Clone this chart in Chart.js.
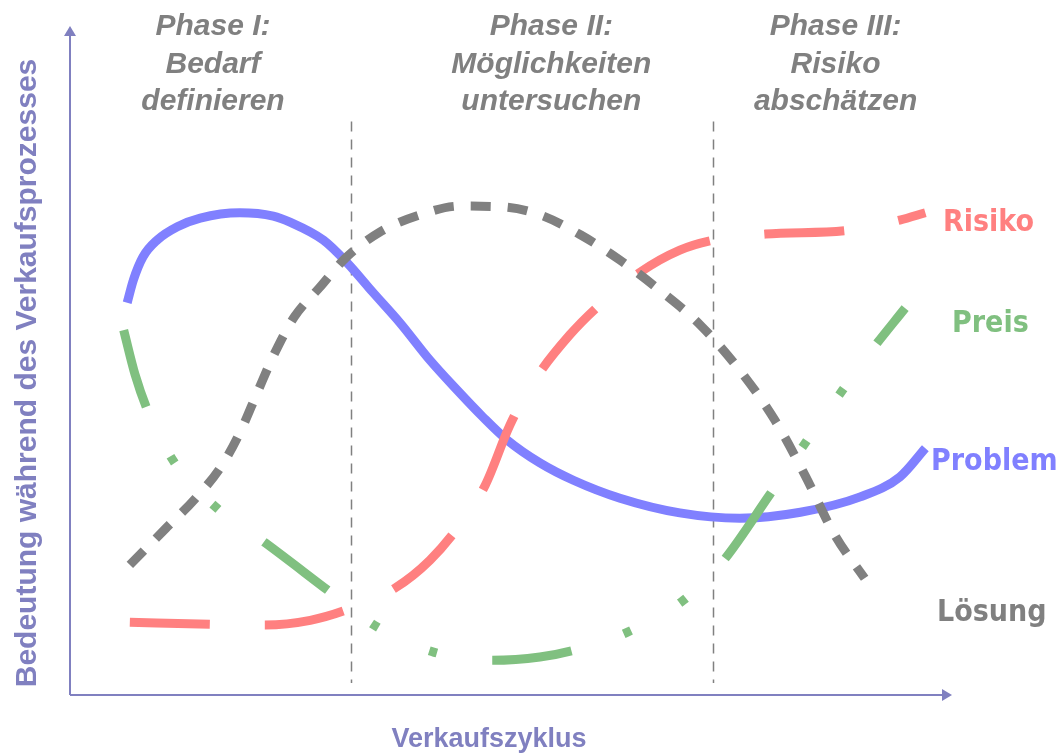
<!DOCTYPE html>
<html>
<head>
<meta charset="utf-8">
<script src="https://cdn.jsdelivr.net/npm/chart.js@4.4.1/dist/chart.umd.min.js"></script>
<style>
  html, body { margin: 0; padding: 0; background: #ffffff; }
  canvas { display: block; }
</style>
</head>
<body>
<canvas id="c" width="1059" height="755"></canvas>
<script>
// Position along the sales cycle (0-100) and importance (0-100)
const problemX = [6.5, 7.2, 8.3, 9.9, 12.2, 14.8, 19.3, 23.1, 25.0, 28.8, 31.5, 34.4, 37.5, 40.9, 44.0, 46.9, 49.7, 53.4, 57.2, 62.5, 69.3, 76.1, 83.0, 89.8, 94.3, 97.2];
const problemY = [58.8, 62.2, 65.7, 68.2, 70.2, 71.5, 72.3, 71.8, 70.9, 68.2, 64.8, 60.4, 55.8, 50.2, 45.7, 41.7, 38.2, 34.8, 32.2, 29.5, 27.3, 26.5, 27.4, 29.7, 32.7, 37.0];

const loesungX = [6.8, 10.9, 14.2, 17.2, 19.4, 21.3, 23.2, 25.5, 28.3, 31.3, 35.2, 39.8, 44.3, 48.9, 53.4, 58.0, 62.5, 67.0, 71.6, 76.1, 80.1, 83.5, 86.9, 90.3];
const loesungY = [19.5, 25.0, 29.4, 34.3, 39.6, 45.4, 51.1, 56.7, 61.0, 65.5, 69.4, 72.0, 73.3, 73.2, 72.0, 69.0, 65.2, 60.7, 55.5, 48.7, 41.2, 33.0, 24.0, 17.5];

const risikoX = [6.8, 15.9, 22.2, 27.3, 31.3, 36.9, 40.9, 44.3, 47.2, 50.0, 52.8, 56.8, 60.2, 64.8, 69.3, 73.1, 79.0, 88.6, 94.3, 97.2];
const risikoY = [10.9, 10.6, 10.5, 11.2, 12.7, 16.0, 20.2, 25.5, 31.5, 40.5, 47.2, 54.0, 58.5, 63.4, 66.7, 68.2, 69.1, 69.7, 71.2, 72.3];

const preisX = [6.1, 7.4, 8.9, 11.9, 16.8, 22.2, 29.9, 34.9, 41.4, 48.0, 53.4, 57.2, 63.3, 69.7, 74.1, 79.5, 83.3, 87.3, 91.1, 94.9];
const preisY = [54.7, 48.0, 42.4, 34.8, 27.9, 22.8, 15.1, 10.2, 6.4, 5.2, 5.7, 6.7, 9.4, 14.2, 19.9, 30.0, 37.3, 44.8, 51.7, 58.0];

// Phase boundaries and phase label centres on the cycle axis
const phaseBounds = [31.9, 73.1];
const phaseCenters = [16.25, 54.7, 87.0];
const phaseLabels = [
  ["Phase I:", "Bedarf", "definieren"],
  ["Phase II:", "Möglichkeiten", "untersuchen"],
  ["Phase III:", "Risiko", "abschätzen"]
];

const seriesNames = ["Problem", "Lösung", "Risiko", "Preis"];
const xTitle = "Verkaufszyklus";
const yTitle = "Bedeutung während des Verkaufsprozesses";

const AXIS = "#8080c0";
const GREY = "#808080";
const COLORS = { Problem: "#8080ff", "Lösung": "#808080", Risiko: "#ff8080", Preis: "#80c080" };

const pts = (xs, ys) => xs.map((x, i) => ({ x: x, y: ys[i] }));

const decorations = {
  id: "decorations",
  beforeDatasetsDraw(chart) {
    const ctx = chart.ctx;
    const xs = chart.scales.x, ys = chart.scales.y;
    const left = xs.getPixelForValue(0), right = xs.getPixelForValue(100);
    const bottom = ys.getPixelForValue(0), top = ys.getPixelForValue(100);
    ctx.save();
    // phase separators
    ctx.strokeStyle = GREY;
    ctx.lineWidth = 1.5;
    ctx.setLineDash([10, 8]);
    phaseBounds.forEach(v => {
      const px = Math.round(xs.getPixelForValue(v)) + 0.5;
      ctx.beginPath();
      ctx.moveTo(px, ys.getPixelForValue(86));
      ctx.lineTo(px, ys.getPixelForValue(1.8));
      ctx.stroke();
    });
    ctx.setLineDash([]);
    // axes with arrow heads
    ctx.strokeStyle = AXIS;
    ctx.fillStyle = AXIS;
    ctx.lineWidth = 2;
    ctx.beginPath();
    ctx.moveTo(left, bottom);
    ctx.lineTo(left, top + 6);
    ctx.moveTo(left, bottom);
    ctx.lineTo(right - 4, bottom);
    ctx.stroke();
    ctx.beginPath();
    ctx.moveTo(left, top - 2);
    ctx.lineTo(left - 6, top + 8);
    ctx.lineTo(left + 6, top + 8);
    ctx.closePath();
    ctx.fill();
    ctx.beginPath();
    ctx.moveTo(right + 2, bottom);
    ctx.lineTo(right - 8, bottom - 6);
    ctx.lineTo(right - 8, bottom + 6);
    ctx.closePath();
    ctx.fill();
    ctx.restore();
  },
  afterDraw(chart) {
    const ctx = chart.ctx;
    const xs = chart.scales.x;
    ctx.save();
    ctx.textAlign = "center";
    ctx.textBaseline = "middle";
    // phase headings
    ctx.fillStyle = GREY;
    ctx.font = "italic bold 30px 'Liberation Sans', Arial, sans-serif";
    phaseLabels.forEach((lines, i) => {
      const cx = xs.getPixelForValue(phaseCenters[i]);
      lines.forEach((t, j) => ctx.fillText(t, cx, 27 + j * 37.5));
    });
    // series names
    ctx.font = "bold 30px 'DejaVu Sans Condensed', 'DejaVu Sans', sans-serif";
    ctx.textAlign = "left";
    const namePos = { Risiko: [943, 223], Preis: [952, 324], Problem: [931, 462], "Lösung": [937, 613] };
    seriesNames.forEach(n => {
      ctx.fillStyle = COLORS[n];
      ctx.fillText(n, namePos[n][0], namePos[n][1]);
    });
    // axis titles
    ctx.fillStyle = AXIS;
    ctx.font = "bold 27px 'Liberation Sans', Arial, sans-serif";
    ctx.textAlign = "center";
    ctx.fillText(xTitle, 489, 740);
    ctx.translate(28, 373);
    ctx.rotate(-Math.PI / 2);
    ctx.font = "bold 30px 'Liberation Sans', Arial, sans-serif";
    ctx.fillText(yTitle, 0, 0);
    ctx.restore();
  }
};

new Chart(document.getElementById("c"), {
  type: "line",
  data: {
    datasets: [
      { label: "Problem", data: pts(problemX, problemY), borderColor: COLORS.Problem, borderWidth: 9, order: 3, borderCapStyle: "butt" },
      { label: "Risiko", data: pts(risikoX, risikoY), borderColor: COLORS.Risiko, borderWidth: 9, order: 2, borderDash: [80, 55], borderCapStyle: "butt" },
      { label: "Preis", data: pts(preisX, preisY), borderColor: COLORS.Preis, borderWidth: 9, order: 1, borderDash: [80, 55, 8, 56, 8, 56], borderCapStyle: "butt" },
      { label: "Lösung", data: pts(loesungX, loesungY), borderColor: COLORS["Lösung"], borderWidth: 9, order: 0, borderDash: [20, 17], borderCapStyle: "butt" }
    ]
  },
  options: {
    responsive: false,
    animation: false,
    devicePixelRatio: 1,
    layout: { padding: { left: 70, right: 109, top: 28, bottom: 60 } },
    elements: {
      point: { radius: 0, hoverRadius: 0 },
      line: { cubicInterpolationMode: "monotone" }
    },
    plugins: { legend: { display: false }, tooltip: { enabled: false } },
    scales: {
      x: { type: "linear", min: 0, max: 100, display: false },
      y: { type: "linear", min: 0, max: 100, display: false }
    }
  },
  plugins: [decorations]
});
</script>
</body>
</html>
